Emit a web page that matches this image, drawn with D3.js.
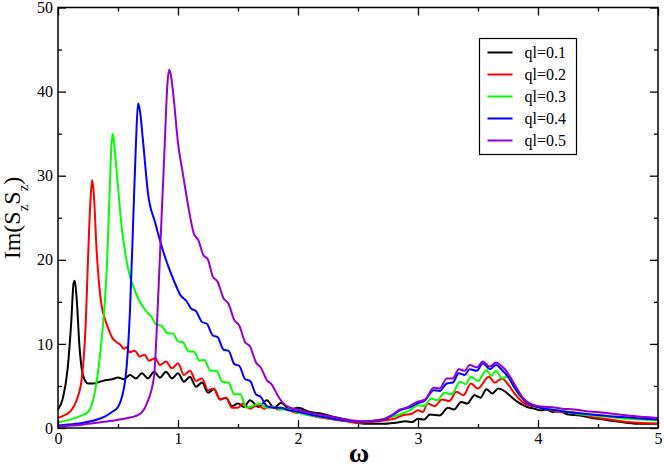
<!DOCTYPE html>
<html>
<head>
<meta charset="UTF-8">
<title>Im(SzSz) vs omega</title>
<style>
  html, body { margin: 0; padding: 0; background: #fff; }
  svg { display: block; }
  .axis text { font-family: "Liberation Serif", "DejaVu Serif", serif; font-size: 16px; fill: #000; }
  .axis path, .axis line { stroke: #000; }
</style>
</head>
<body>
<svg width="664" height="470"></svg>
<script src="https://d3js.org/d3.v7.min.js"></script>
<script>
// data: [omega, Im(SzSz)]
var ql01 = [[0,2.2],[0.04,3.5],[0.08,7.0],[0.11,12.5],[0.13,17.2],[0.14,17.5],[0.155,15.5],[0.18,9.5],[0.21,6.2],[0.25,5.3],
  [0.30,5.3],[0.35,5.5],[0.40,5.7],[0.45,5.8],[0.50,6.0],[0.55,5.8],[0.60,6.3],[0.65,5.9],[0.70,6.5],[0.75,5.9],
  [0.80,6.7],[0.85,6.0],[0.90,6.7],[0.95,5.9],[1.00,6.5],[1.05,5.5],[1.10,6.1],[1.15,4.9],[1.20,5.4],[1.25,4.2],
  [1.30,4.6],[1.35,3.4],[1.40,3.6],[1.45,2.6],[1.50,2.9],[1.55,2.5],[1.60,3.3],[1.67,2.5],[1.74,3.3],[1.80,2.4],
  [1.86,3.0],[1.93,2.2],[2.00,2.4],[2.10,1.9],[2.20,1.7],[2.30,1.3],[2.40,1.0],[2.50,0.6],[2.60,0.5],[2.70,0.5],
  [2.80,0.6],[2.90,0.8],[2.95,0.7],[3.00,1.1],[3.05,1.0],[3.10,1.6],[3.18,1.5],[3.25,2.4],[3.30,2.2],[3.36,3.1],
  [3.41,2.9],[3.47,3.9],[3.52,3.6],[3.57,4.6],[3.62,4.1],[3.67,4.7],[3.72,4.4],[3.77,3.8],[3.83,3.1],[3.88,2.7],
  [3.93,2.4],[3.97,2.3],[4.02,2.1],[4.07,2.2],[4.12,1.9],[4.18,2.0],[4.25,1.6],[4.35,1.5],[4.45,1.2],[4.55,1.0],
  [4.65,0.8],[4.75,0.6],[4.85,0.5],[5.00,0.5]];

var ql02 = [[0,1.2],[0.05,1.5],[0.11,2.1],[0.16,3.5],[0.20,6.1],[0.23,12],[0.25,20],[0.27,27],[0.285,29.5],[0.30,27.5],
  [0.32,21.6],[0.34,17.5],[0.364,14.5],[0.39,13.0],[0.42,11.8],[0.45,10.8],[0.48,10.3],[0.52,9.9],[0.55,9.4],[0.57,9.6],
  [0.60,9.0],[0.64,9.2],[0.68,8.5],[0.72,8.7],[0.76,8.0],[0.81,8.3],[0.85,7.5],[0.90,7.9],[0.95,7.1],[1.00,7.7],
  [1.05,6.3],[1.10,6.8],[1.15,5.6],[1.20,5.9],[1.25,4.5],[1.30,4.7],[1.35,3.4],[1.40,3.6],[1.45,2.4],[1.50,2.4],
  [1.54,2.9],[1.60,2.3],[1.66,2.7],[1.72,2.3],[1.78,2.6],[1.84,2.2],[1.90,2.3],[1.96,1.9],[2.05,1.7],[2.15,1.35],
  [2.25,1.1],[2.40,0.8],[2.50,0.6],[2.60,0.7],[2.74,0.95],[2.80,1.1],[2.88,1.55],[2.95,1.7],[3.00,2.1],[3.04,1.9],
  [3.08,2.9],[3.14,2.6],[3.20,3.4],[3.26,3.2],[3.32,4.3],[3.38,3.9],[3.44,5.3],[3.50,4.7],[3.59,6.1],[3.64,5.4],
  [3.70,5.9],[3.75,5.2],[3.81,4.0],[3.89,2.9],[3.95,2.6],[4.00,2.5],[4.08,2.2],[4.18,1.9],[4.25,1.9],[4.32,1.8],
  [4.45,1.3],[4.60,1.0],[4.74,0.7],[4.87,0.6],[5.00,0.5]];

var ql03 = [[0,0.65],[0.10,1.0],[0.20,1.5],[0.25,1.9],[0.31,4.5],[0.36,10],[0.39,15],[0.41,20],[0.43,28],[0.445,33.5],
  [0.456,35],[0.47,33.5],[0.50,28.7],[0.53,24],[0.57,20],[0.60,18],[0.64,16.4],[0.67,15.3],[0.70,14.6],[0.74,13.8],
  [0.78,13.2],[0.82,12.3],[0.86,12.2],[0.91,11.3],[0.96,11.2],[1.00,10.3],[1.04,10.2],[1.09,9.1],[1.13,9.1],[1.18,8.0],
  [1.22,8.1],[1.27,6.8],[1.32,6.8],[1.37,5.5],[1.42,5.4],[1.47,4.0],[1.52,4.0],[1.57,2.4],[1.62,2.6],[1.68,2.9],
  [1.74,2.4],[1.80,2.5],[1.85,2.2],[1.92,2.2],[1.98,1.9],[2.10,1.5],[2.26,1.15],[2.40,0.9],[2.54,0.75],[2.65,0.9],
  [2.79,1.35],[2.93,2.1],[3.00,2.7],[3.05,2.6],[3.11,3.5],[3.16,3.3],[3.22,4.2],[3.28,4.0],[3.35,5.5],[3.40,5.2],
  [3.44,6.1],[3.50,5.6],[3.57,6.9],[3.61,6.2],[3.65,6.8],[3.70,5.9],[3.74,6.1],[3.80,4.8],[3.85,3.8],[3.93,2.9],
  [4.00,2.6],[4.07,2.3],[4.15,2.1],[4.22,2.0],[4.32,1.7],[4.45,1.5],[4.60,1.3],[4.75,1.1],[5.00,0.9]];

var ql04 = [[0,0.3],[0.15,0.5],[0.30,0.9],[0.39,1.35],[0.45,1.9],[0.50,2.5],[0.56,5.7],[0.60,14],[0.63,26],[0.65,34],
  [0.667,38.6],[0.685,37.5],[0.71,33.9],[0.75,27.9],[0.81,24.4],[0.85,22.3],[0.89,20.4],[0.93,18.8],[0.975,17.2],[1.02,15.8],
  [1.07,15.1],[1.11,14.2],[1.15,13.9],[1.20,12.6],[1.24,12.4],[1.29,11.0],[1.33,10.8],[1.38,9.3],[1.42,9.2],[1.47,7.6],
  [1.51,7.4],[1.56,5.8],[1.60,5.6],[1.65,4.0],[1.69,3.7],[1.74,2.6],[1.80,2.4],[1.86,2.4],[1.92,2.1],[1.98,2.0],
  [2.10,1.6],[2.26,1.2],[2.40,0.9],[2.54,0.75],[2.70,0.95],[2.79,1.55],[2.85,2.1],[2.92,2.4],[2.99,2.9],[3.06,3.3],
  [3.13,4.5],[3.18,4.4],[3.24,5.3],[3.29,5.4],[3.34,6.5],[3.39,6.3],[3.43,7.0],[3.49,6.8],[3.54,7.7],[3.60,7.0],
  [3.65,7.5],[3.70,6.9],[3.75,6.1],[3.82,4.5],[3.90,3.1],[3.97,2.6],[4.05,2.3],[4.15,2.1],[4.30,1.8],[4.45,1.6],
  [4.60,1.4],[4.80,1.2],[5.00,1.0]];

var ql05 = [[0,0.2],[0.20,0.4],[0.39,0.75],[0.55,1.1],[0.67,1.55],[0.74,2.9],[0.80,6.1],[0.83,14],[0.86,24],[0.89,33.9],
  [0.91,40.5],[0.925,42.6],[0.94,42],[0.96,39.8],[1.00,33.9],[1.04,30.3],[1.09,26.0],[1.13,23.2],[1.17,22.3],[1.21,20.6],
  [1.25,20.0],[1.29,18.0],[1.33,17.4],[1.38,15.4],[1.42,14.8],[1.47,12.8],[1.51,12.2],[1.56,10.2],[1.60,9.7],[1.65,7.8],
  [1.69,7.2],[1.74,5.7],[1.78,5.2],[1.83,3.9],[1.88,2.9],[1.94,2.4],[1.99,2.2],[2.10,1.8],[2.26,1.4],[2.40,1.0],
  [2.54,0.8],[2.70,1.0],[2.79,1.6],[2.85,2.2],[2.92,2.5],[2.99,3.1],[3.06,3.4],[3.13,4.8],[3.18,4.7],[3.24,5.9],
  [3.29,5.9],[3.34,7.0],[3.39,6.8],[3.43,7.5],[3.49,7.2],[3.54,7.9],[3.60,7.3],[3.65,7.8],[3.70,7.3],[3.73,6.9],
  [3.80,5.3],[3.88,3.5],[3.95,2.8],[4.00,2.6],[4.10,2.5],[4.20,2.3],[4.30,2.2],[4.40,2.0],[4.50,1.9],[4.62,1.7],
  [4.75,1.5],[4.90,1.3],[5.00,1.2]];

var seriesNames = ["ql=0.1", "ql=0.2", "ql=0.3", "ql=0.4", "ql=0.5"];
var seriesData = [ql01, ql02, ql03, ql04, ql05];
var seriesColors = ["#000000", "#ff0000", "#00ff00", "#0000ff", "#9400d3"];

var xMajor = [0, 1, 2, 3, 4, 5];
var xMinor = [0.5, 1.5, 2.5, 3.5, 4.5];
var yMajor = [0, 10, 20, 30, 40, 50];
var yMinor = [5, 15, 25, 35, 45];

// layout
var svg = d3.select("svg");
var margin = { left: 58, right: 6, top: 7.5, bottom: 42 };
var W = 664, H = 470;

var x = d3.scaleLinear().domain([0, 5]).range([margin.left, W - margin.right]);
var y = d3.scaleLinear().domain([0, 50]).range([H - margin.bottom, margin.top]);

// lines
var line = d3.line()
  .x(function (d) { return x(d[0]); })
  .y(function (d) { return y(d[1]); })
  .curve(d3.curveMonotoneX);

svg.append("g")
  .selectAll("path")
  .data(seriesData)
  .enter()
  .append("path")
  .attr("d", line)
  .attr("fill", "none")
  .attr("stroke", function (d, i) { return seriesColors[i]; })
  .attr("stroke-width", 2)
  .attr("stroke-linejoin", "round");

// axes: major + minor ticks on all four sides, pointing inward
function addAxis(axis, tx, ty) {
  var g = svg.append("g")
    .attr("class", "axis")
    .attr("transform", "translate(" + tx + "," + ty + ")")
    .call(axis);
  g.select(".domain").remove();
  g.selectAll("line").attr("stroke-width", 1.3);
  return g;
}

var yb = H - margin.bottom, xr = W - margin.right;

addAxis(d3.axisBottom(x).tickValues(xMajor).tickSize(-8).tickPadding(5).tickFormat(d3.format("d")), 0, yb);
addAxis(d3.axisBottom(x).tickValues(xMinor).tickSize(-4).tickFormat(""), 0, yb);
addAxis(d3.axisTop(x).tickValues(xMajor).tickSize(-8).tickFormat(""), 0, margin.top);
addAxis(d3.axisTop(x).tickValues(xMinor).tickSize(-4).tickFormat(""), 0, margin.top);

addAxis(d3.axisLeft(y).tickValues(yMajor).tickSize(-8).tickPadding(5).tickFormat(d3.format("d")), margin.left, 0);
addAxis(d3.axisLeft(y).tickValues(yMinor).tickSize(-4).tickFormat(""), margin.left, 0);
addAxis(d3.axisRight(y).tickValues(yMajor).tickSize(-8).tickFormat(""), xr, 0);
addAxis(d3.axisRight(y).tickValues(yMinor).tickSize(-4).tickFormat(""), xr, 0);

// frame
svg.append("rect")
  .attr("x", margin.left)
  .attr("y", margin.top)
  .attr("width", xr - margin.left)
  .attr("height", yb - margin.top)
  .attr("fill", "none")
  .attr("stroke", "#000")
  .attr("stroke-width", 1.5);

// axis titles
var serif = "'Liberation Serif', 'DejaVu Serif', serif";

svg.append("text")
  .attr("x", 359)
  .attr("y", 462)
  .attr("text-anchor", "middle")
  .attr("font-family", serif)
  .attr("font-size", 28)
  .attr("font-weight", "bold")
  .text("\u03c9");

var ylab = svg.append("text")
  .attr("transform", "translate(20,218) rotate(-90)")
  .attr("text-anchor", "middle")
  .attr("font-family", serif)
  .attr("font-size", 24);
ylab.append("tspan").text("Im(S");
ylab.append("tspan").attr("font-size", 15).attr("dy", 8).text("z");
ylab.append("tspan").attr("dy", -8).text("S");
ylab.append("tspan").attr("font-size", 15).attr("dy", 8).text("z");
ylab.append("tspan").attr("dy", -8).text(")");

// legend
var leg = svg.append("g").attr("transform", "translate(479.5,38.5)");
leg.append("rect")
  .attr("width", 97)
  .attr("height", 116)
  .attr("fill", "#fff")
  .attr("stroke", "#000")
  .attr("stroke-width", 1.2);

var rows = leg.selectAll("g.row")
  .data(seriesNames)
  .enter()
  .append("g")
  .attr("class", "row")
  .attr("transform", function (d, i) { return "translate(0," + (14 + i * 22) + ")"; });

rows.append("line")
  .attr("x1", 8)
  .attr("x2", 33)
  .attr("stroke", function (d, i) { return seriesColors[i]; })
  .attr("stroke-width", 2);

rows.append("text")
  .attr("x", 45)
  .attr("dy", "0.35em")
  .attr("font-family", serif)
  .attr("font-size", 16)
  .text(function (d) { return d; });
</script>
